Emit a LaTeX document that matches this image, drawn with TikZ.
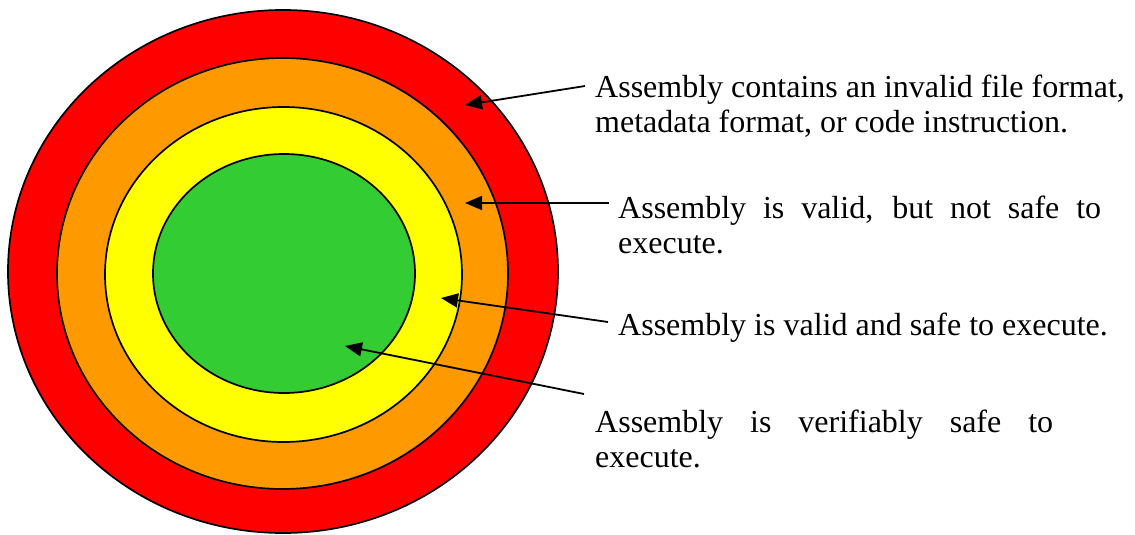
\documentclass[tikz,border=0pt]{standalone}
\usepackage{fontspec}
\setmainfont{Liberation Serif}
\usetikzlibrary{arrows.meta}
\definecolor{ringred}{HTML}{FF0000}
\definecolor{ringorange}{HTML}{FF9900}
\definecolor{ringyellow}{HTML}{FFFF00}
\definecolor{ringgreen}{HTML}{33CC33}
\newcommand{\labeltext}[1]{\parbox[t]{540pt}{\raggedright #1}}
\tikzset{
  ring/.style={draw=black, line width=1.7pt},
  label/.style={inner sep=0pt, anchor=base west,
    font=\fontsize{32}{35.5}\selectfont},
  pointer/.style={draw=black, line width=1.8pt,
    -{Triangle[length=17pt,width=14pt]}}
}
\begin{document}
\begin{tikzpicture}[x=1pt,y=-1pt]
\useasboundingbox (0,0) rectangle (1135,535);
% rings
\draw[ring, fill=ringred]    (283,271.5) ellipse [x radius=275pt, y radius=261.5pt];
\draw[ring, fill=ringorange] (282.5,273.5) ellipse [x radius=225.5pt, y radius=215.5pt];
\draw[ring, fill=ringyellow] (283.5,274.5) ellipse [x radius=178.5pt, y radius=167.5pt];
\draw[ring, fill=ringgreen]  (284,273.5) ellipse [x radius=131pt, y radius=119.5pt];
% labels
\node[label] (t1) at (595,97) {\labeltext{Assembly contains an invalid file format,\\metadata format, or code instruction.}};
\node[label] (t2) at (618,218) {\labeltext{\makebox[483pt][s]{Assembly is valid, but not safe to}\\execute.}};
\node[label] (t3) at (618,335) {\labeltext{Assembly is valid and safe to execute.}};
\node[label] (t4) at (595,432) {\labeltext{\makebox[458pt][s]{Assembly is verifiably safe to}\\execute.}};
% arrow ends
\coordinate (s1) at (585,86);
\coordinate (e1) at (465,105);
\coordinate (s2) at (609,203);
\coordinate (e2) at (465,203);
\coordinate (s3) at (608,322);
\coordinate (e3) at (441,298);
\coordinate (s4) at (584,394);
\coordinate (e4) at (345,346);
\draw[pointer] (s1) -- (e1);
\draw[pointer] (s2) -- (e2);
\draw[pointer] (s3) -- (e3);
\draw[pointer] (s4) -- (e4);
\end{tikzpicture}
\end{document}
